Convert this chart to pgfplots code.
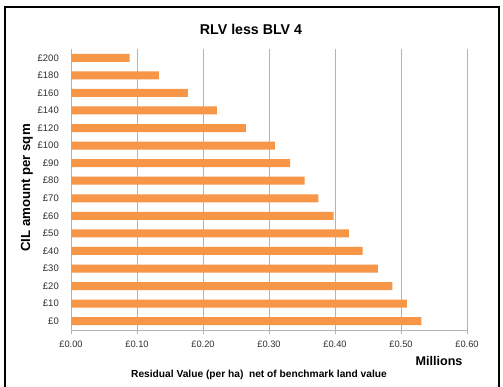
\documentclass[border=0pt]{standalone}
\usepackage{pgfplots}
\pgfplotsset{compat=1.18}
\usepackage{fontspec}
\setmainfont{Liberation Sans}
\definecolor{barorange}{HTML}{F79646}
\definecolor{gridgray}{HTML}{B3B3B3}
\definecolor{ticktxt}{HTML}{303030}
\begin{document}
\begin{tikzpicture}[x=1pt,y=1pt]
\useasboundingbox (0,0) rectangle (503,-387);
\fill[white] (0,0) rectangle (503,-387);
\draw[line width=1.6pt] (5,-395) -- (5,-7) -- (499,-7) -- (499,-395);
\begin{axis}[
  at={(71pt,-330pt)}, anchor=south west,
  width=396pt, height=281pt, scale only axis,
  xbar, bar width=8pt,
  xmin=0, xmax=0.6, ymin=-0.5, ymax=15.5,
  axis lines*=left,
  axis line style={gridgray, line width=0.9pt},
  xmajorgrids, grid style={gridgray, line width=0.9pt},
  xtick={0,0.1,0.2,0.3,0.4,0.5,0.6},
  xticklabels={£0.00,£0.10,£0.20,£0.30,£0.40,£0.50,£0.60},
  ytick={0,...,15},
  yticklabels={£0,£10,£20,£30,£40,£50,£60,£70,£80,£90,£100,£120,£140,£160,£180,£200},
  tick style={gridgray, line width=0.9pt},
  xtick align=outside, major tick length=4pt,
  ytick style={draw=none},
  yticklabel style={font=\fontsize{9.5}{10}\selectfont, text=ticktxt, inner sep=0pt, anchor=east, xshift=-8pt},
  xticklabel style={font=\fontsize{9.3}{10}\selectfont, text=ticktxt, inner sep=0pt, anchor=north, yshift=-7pt},
]
\addplot[fill=barorange, draw=none] coordinates {
(0.531,0) (0.509,1) (0.487,2) (0.465,3) (0.442,4) (0.421,5) (0.398,6) (0.375,7)
(0.354,8) (0.332,9) (0.309,10) (0.265,11) (0.221,12) (0.177,13) (0.133,14) (0.089,15)
};
\end{axis}
\node[font=\fontsize{14.2}{16}\selectfont\bfseries] at (251,-29) {RLV less BLV 4};
\node[font=\fontsize{13.2}{15}\selectfont\bfseries, rotate=90] at (27,-188) {CIL amount per sqm};
\node[font=\fontsize{10.2}{11}\selectfont\bfseries] at (259,-375) {Residual Value (per ha)\ \ net of benchmark land value};
\node[font=\fontsize{12.6}{14}\selectfont\bfseries] at (439,-361) {Millions};
\end{tikzpicture}
\end{document}
